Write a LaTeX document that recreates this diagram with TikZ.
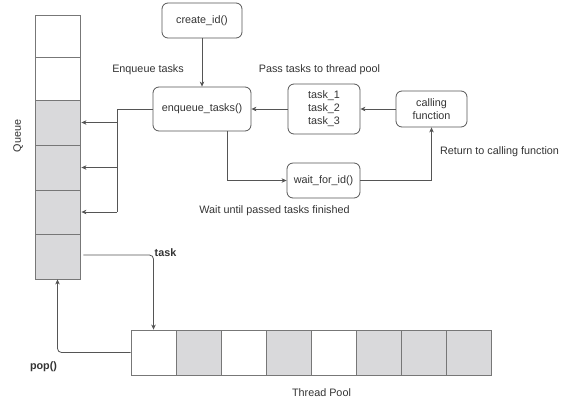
\documentclass[tikz,border=0pt]{standalone}
\usepackage{fontspec}
\setmainfont{Liberation Sans}
\usetikzlibrary{arrows.meta}
\definecolor{ln}{HTML}{555555}
\definecolor{tx}{HTML}{333333}
\definecolor{cellgray}{HTML}{D9D9DB}
\begin{document}
\begin{tikzpicture}[x=1pt,y=-1pt,
  every node/.style={font=\fontsize{10.8}{13}\selectfont, text=tx},
  fn/.style={draw=ln, line width=0.8pt, rounded corners=6pt, align=center, inner sep=0pt},
  cell/.style={draw=ln!80, line width=0.8pt, minimum width=45pt, inner sep=0pt},
  qwhite/.style={cell, fill=white},
  qgray/.style={cell, fill=cellgray},
  lbl/.style={inner sep=0pt},
  arr/.style={draw=ln, line width=0.8pt, -{Stealth[length=5pt,width=4.5pt,inset=1.5pt]}},
  con/.style={draw=ln, line width=0.8pt}]
\useasboundingbox (0,0) rectangle (572,405);

% queue
\node[qwhite, minimum height=42pt] (q1) at (57.5,36) {};
\node[qwhite, minimum height=43pt] (q2) at (57.5,78.5) {};
\node[qgray, minimum height=45pt] (q3) at (57.5,122.5) {};
\node[qgray, minimum height=45pt] (q4) at (57.5,167.5) {};
\node[qgray, minimum height=44pt] (q5) at (57.5,212) {};
\node[qgray, minimum height=45pt] (q6) at (57.5,256.5) {};
\node[lbl, rotate=90] (ql) at (18,136) {Queue};

% thread pool
\foreach \i/\s in {1/qwhite,2/qgray,3/qwhite,4/qgray,5/qwhite,6/qgray,7/qgray,8/qgray}{
  \node[\s, minimum height=45pt] (p\i) at ({131+45*(\i-1)+22.5},352.5) {};
}
\node[lbl] (tpl) at (321.5,393) {Thread Pool};

% functions
\node[fn, minimum width=80pt, minimum height=35pt] (c) at (202,20.5) {create\_id()};
\node[fn, minimum width=98pt, minimum height=44pt] (e) at (202,109) {enqueue\_tasks()};
\node[fn, minimum width=72pt, minimum height=50pt] (t) at (324,109) {task\_1\\task\_2\\task\_3};
\node[fn, minimum width=71pt, minimum height=36pt] (cf) at (431.5,109) {calling\\function};
\node[fn, minimum width=73pt, minimum height=35pt] (w) at (323.5,180.5) {wait\_for\_id()};

% labels
\node[lbl] (l1) at (148,70) {Enqueue tasks};
\node[lbl] (l2) at (319.5,70) {Pass tasks to thread pool};
\node[lbl] (l3) at (499.5,152) {Return to calling function};
\node[lbl] (l4) at (274.5,211) {Wait until passed tasks finished};
\node[lbl, font=\fontsize{10.8}{13}\selectfont\bfseries] (l5) at (165.5,253) {task};
\node[lbl, font=\fontsize{10.8}{13}\selectfont\bfseries] (l6) at (43.5,367) {pop()};

% connectors
\draw[arr] (c.south) -- (e.north);
\draw[arr] (cf.west) -- (t.east);
\draw[arr] (t.west) -- (e.east);
\coordinate (j) at (117,109);
\draw[con] (e.west) -- (j) -- (j |- q5.east);
\draw[arr] (j |- q3.east) -- ([xshift=1pt]q3.east);
\draw[arr] (j |- q4.east) -- ([xshift=1pt]q4.east);
\draw[arr] (j |- q5.east) -- ([xshift=1pt]q5.east);
\draw[arr] ([xshift=25pt]e.south) |- (w.west);
\draw[arr] (w.east) -| (cf.south);
\draw[arr, rounded corners=4pt] ([xshift=3pt,yshift=1.5pt]q6.east) -| (p1.north);
\draw[arr, rounded corners=4pt] (p1.west) -| (q6.south);
\end{tikzpicture}
\end{document}
